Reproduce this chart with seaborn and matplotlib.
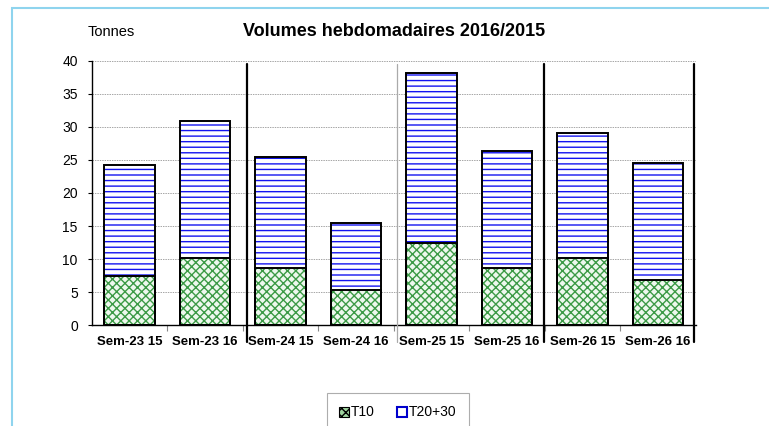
import numpy as np
import matplotlib
matplotlib.use("Agg")
import matplotlib.pyplot as plt
import seaborn as sns
from matplotlib.patches import Rectangle, Patch
from matplotlib.ticker import MultipleLocator, FixedLocator

# Data
weeks = ["Sem-23 15", "Sem-23 16", "Sem-24 15", "Sem-24 16",
         "Sem-25 15", "Sem-25 16", "Sem-26 15", "Sem-26 16"]
t10 = [7.5, 10.1, 8.6, 5.3, 12.4, 8.7, 10.1, 6.9]
t2030 = [16.7, 20.8, 16.9, 10.2, 25.7, 17.7, 19.0, 17.6]
totals = [a + b for a, b in zip(t10, t2030)]

sns.set_style("white")
plt.rcParams["font.family"] = ["Liberation Sans", "DejaVu Sans"]
plt.rcParams["hatch.linewidth"] = 1.0
plt.rcParams["text.color"] = "black"
plt.rcParams["xtick.color"] = "black"
plt.rcParams["ytick.color"] = "black"

fig = plt.figure(figsize=(7.69, 4.26), dpi=100)
ax = fig.add_axes([0.1192, 0.2364, 0.7858, 0.6211])

# Stacked bars: totals first, then T10 on top of them
sns.barplot(x=weeks, y=totals, ax=ax, width=0.67, color="white")
n_top = len(ax.patches)
sns.barplot(x=weeks, y=t10, ax=ax, width=0.67, color="white")

for i, p in enumerate(ax.patches):
    if i < n_top:
        p.set_facecolor("white")
        p.set_edgecolor("#1414f0")
        p.set_hatch("---")
    else:
        p.set_facecolor("#eef8ee")
        p.set_edgecolor("#3c9a46")
        p.set_hatch("xxxx")
    p.set_linewidth(0)
    p.set_zorder(2)
    outline = Rectangle(p.get_xy(), p.get_width(), p.get_height(),
                        fill=False, edgecolor="black", linewidth=1.4, zorder=3)
    ax.add_patch(outline)

# Axes styling
ax.set_ylim(0, 40)
ax.set_xlim(-0.5, len(weeks) - 0.5)
ax.yaxis.set_major_locator(MultipleLocator(5))
ax.grid(axis="y", color="#a6a6a6", linestyle=(0, (1.5, 1)), linewidth=0.7, zorder=0)
ax.set_axisbelow(True)
for side in ["top", "right"]:
    ax.spines[side].set_visible(False)
for side in ["left", "bottom"]:
    ax.spines[side].set_color("black")
    ax.spines[side].set_linewidth(1.0)

ax.tick_params(axis="y", direction="out", length=3, width=0.8, labelsize=10,
               colors="black", left=True, pad=7)
ax.tick_params(axis="x", which="major", length=0, labelsize=9.5, pad=8,
               labelcolor="black")
ax.xaxis.set_minor_locator(FixedLocator(np.arange(0.5, len(weeks) - 1, 1)))
ax.tick_params(axis="x", which="minor", direction="out", length=4, width=0.8,
               color="#888888", bottom=True)
for lab in ax.get_xticklabels():
    lab.set_fontweight("bold")
ax.set_xlabel("")
ax.set_ylabel("")

# Week separators
trans = ax.get_xaxis_transform()
for xb, col, lw in [(1.56, "black", 1.6), (3.54, "#aaaaaa", 0.9),
                    (5.49, "black", 1.6), (7.47, "black", 1.6)]:
    ax.plot([xb, xb], [0.9875, -0.065], transform=trans, color=col,
            linewidth=lw, clip_on=False, zorder=4)

# Titles
fig.text(394 / 769, 1 - 31 / 426, "Volumes hebdomadaires 2016/2015",
         ha="center", va="center", fontsize=13, fontweight="bold", color="black")
fig.text(111 / 769, 1 - 32 / 426, "Tonnes", ha="center", va="center",
         fontsize=10.5, color="black")

# Legend
handles = [
    Patch(facecolor="#9fd49f", edgecolor="black", hatch="xxxx", linewidth=0.8),
    Patch(facecolor="white", edgecolor="#0000cc", linewidth=1.5),
]
leg = fig.legend(handles, ["T10", "T20+30"], ncol=2, loc="upper center",
                 bbox_to_anchor=(398 / 769, 1 - 393 / 426), frameon=True,
                 fancybox=False, fontsize=10, handlelength=0.7, handleheight=0.7,
                 handletextpad=0.15, columnspacing=1.6, borderpad=0.9,
                 borderaxespad=0)
leg.get_frame().set_edgecolor("#999999")
leg.get_frame().set_linewidth(0.8)

# Outer light-blue frame
fig.patches.append(Rectangle((12 / 769, -0.2), 1.5, 1.2 - 8 / 426,
                             transform=fig.transFigure, fill=False,
                             edgecolor="#8fd4ee", linewidth=1.5))

fig.savefig("out.png", dpi=100)
